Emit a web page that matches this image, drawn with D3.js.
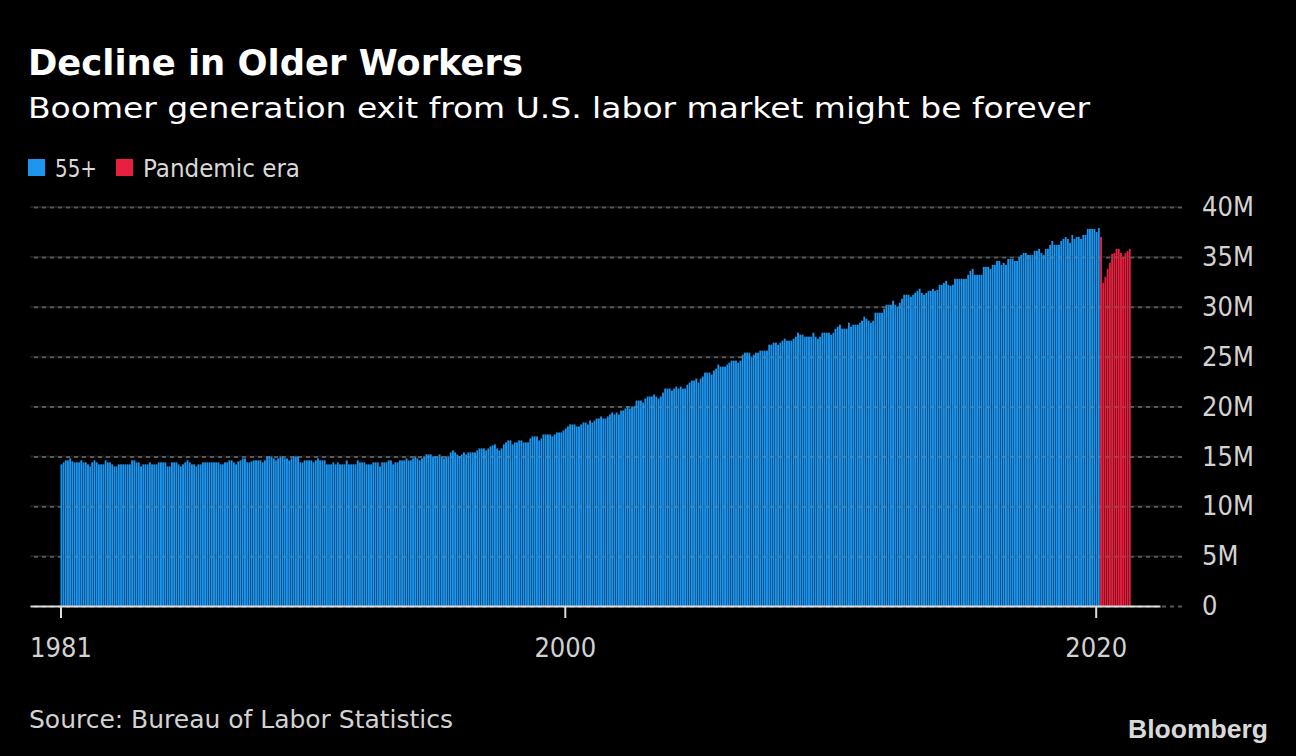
<!DOCTYPE html>
<html>
<head>
<meta charset="utf-8">
<script src="https://cdn.jsdelivr.net/npm/d3@7"></script>
<style>
  html, body { margin: 0; padding: 0; background: #000; }
  svg { display: block; }
  text { font-family: "DejaVu Sans", "Noto Sans", sans-serif; font-stretch: condensed; }
</style>
</head>
<body>
<svg id="chart" width="1296" height="756"></svg>
<script>
// ---- Data (millions employed, age 55+, monthly) ----
const firstMonth = "1981-01";
const olderWorkers = [
  14.2,14.4,14.6,14.6,14.8,14.5,14.4,14.4,14.4,14.6,14.4,14.4, // 1981
  14.2,14.0,14.4,14.6,14.4,14.2,14.2,14.2,14.6,14.4,14.4,14.2, // 1982
  14.0,14.0,14.2,14.2,14.2,14.2,14.2,14.2,14.6,14.6,14.4,14.4, // 1983
  14.0,14.2,14.2,14.2,14.4,14.2,14.2,14.2,14.4,14.4,14.4,14.4, // 1984
  14.0,14.0,14.4,14.4,14.4,14.2,14.0,14.2,14.4,14.6,14.4,14.2, // 1985
  14.2,14.0,14.2,14.2,14.4,14.4,14.4,14.4,14.4,14.4,14.4,14.4, // 1986
  14.2,14.2,14.4,14.4,14.6,14.6,14.4,14.2,14.5,14.6,14.8,14.8, // 1987
  14.4,14.4,14.5,14.6,14.6,14.6,14.6,14.4,14.6,15.0,15.0,15.0, // 1988
  14.8,14.6,14.8,15.0,15.0,14.8,14.8,14.6,14.8,15.0,15.0,15.0, // 1989
  14.4,14.4,14.6,14.6,14.6,14.6,14.4,14.6,14.8,14.6,14.6,14.6, // 1990
  14.2,14.2,14.2,14.4,14.2,14.4,14.2,14.2,14.2,14.6,14.2,14.2, // 1991
  14.2,14.2,14.6,14.4,14.4,14.4,14.2,14.2,14.2,14.4,14.4,14.4, // 1992
  14.0,14.4,14.4,14.4,14.6,14.6,14.2,14.4,14.4,14.6,14.6,14.6, // 1993
  14.8,14.6,14.6,14.8,15.0,14.8,14.6,14.8,15.0,15.2,15.2,15.2, // 1994
  15.0,15.0,15.0,15.2,15.0,14.8,15.0,15.0,15.4,15.6,15.4,15.2, // 1995
  15.0,15.2,15.4,15.2,15.4,15.4,15.4,15.4,15.6,15.8,15.8,15.8, // 1996
  15.6,15.8,16.0,16.1,16.2,15.8,15.6,15.8,16.2,16.4,16.6,16.6, // 1997
  16.2,16.4,16.4,16.6,16.6,16.4,16.4,16.4,16.8,17.0,17.0,17.0, // 1998
  16.6,16.8,17.2,17.2,17.2,17.2,17.0,17.2,17.4,17.4,17.4,17.6, // 1999
  17.8,18.0,18.2,18.2,18.2,18.0,18.0,18.2,18.4,18.4,18.2,18.6, // 2000
  18.4,18.6,18.8,18.8,19.0,18.8,18.8,19.0,19.2,19.4,19.2,19.4, // 2001
  19.2,19.6,19.6,19.8,20.0,19.8,20.0,20.0,20.6,20.6,20.6,20.4, // 2002
  20.8,21.0,21.0,21.0,21.2,21.0,20.8,21.0,21.4,21.8,21.8,21.8, // 2003
  21.6,21.8,22.0,21.8,22.0,21.8,21.8,22.2,22.4,22.6,22.6,22.8, // 2004
  22.4,22.8,23.0,23.4,23.4,23.4,23.2,23.6,23.8,24.2,24.0,24.0, // 2005
  24.0,24.2,24.4,24.6,24.6,24.6,24.4,24.6,25.2,25.4,25.4,25.4, // 2006
  25.0,25.2,25.4,25.4,25.6,25.6,25.6,25.6,26.2,26.2,26.4,26.4, // 2007
  26.2,26.4,26.6,26.8,26.6,26.6,26.6,26.8,27.0,27.4,27.2,27.2, // 2008
  27.0,27.0,27.0,27.0,27.4,27.0,26.8,27.0,27.4,27.4,27.4,27.4, // 2009
  27.2,27.4,27.8,28.0,28.2,27.8,27.8,27.8,28.4,28.0,28.2,28.2, // 2010
  28.2,28.4,28.6,29.0,28.8,28.6,28.4,28.6,29.4,29.4,29.4,29.4, // 2011
  29.8,30.2,30.2,30.2,30.6,30.2,30.0,30.4,30.8,31.2,31.2,31.2, // 2012
  31.0,31.2,31.4,31.6,31.8,31.4,31.2,31.4,31.6,31.6,31.8,31.6, // 2013
  31.7,32.2,32.2,32.4,32.6,32.2,32.1,32.2,32.8,32.8,32.8,32.8, // 2014
  32.8,32.8,33.2,33.6,33.8,33.2,33.2,33.2,33.2,34.0,34.0,34.0, // 2015
  33.8,34.2,34.2,34.6,34.6,34.2,34.4,34.2,34.8,34.8,34.8,34.6, // 2016
  34.6,35.0,35.2,35.4,35.4,35.2,35.2,35.2,35.6,35.6,35.8,35.4, // 2017
  35.2,35.8,35.8,36.2,36.6,36.2,36.2,36.2,36.6,36.8,37.0,36.8, // 2018
  36.4,37.2,36.8,37.0,37.0,36.8,37.2,37.2,37.8,37.8,37.8,37.8, // 2019
  37.5,37.9                                                     // 2020 Jan-Feb
];
const pandemicFirstMonth = "2020-03";
const pandemicEra = [37.0,32.4,33.0,33.8,34.4,35.3,35.4,35.8,35.8,35.4,35.0,35.4,35.6,35.8];

const seriesNames = ["55+", "Pandemic era"];
const seriesColors = ["#1c95ef", "#e8203f"];
const xTickYears = [1981, 2000, 2020];
const yTickValues = [0, 5, 10, 15, 20, 25, 30, 35, 40];

const titleText = "Decline in Older Workers";
const subtitleText = "Boomer generation exit from U.S. labor market might be forever";
const sourceText = "Source: Bureau of Labor Statistics";

// ---- Build rows ----
const parseMonth = d3.utcParse("%Y-%m");
const rows = [];
olderWorkers.forEach((v, i) => rows.push({date: d3.utcMonth.offset(parseMonth(firstMonth), i), value: v, s: 0}));
pandemicEra.forEach((v, i) => rows.push({date: d3.utcMonth.offset(parseMonth(pandemicFirstMonth), i), value: v, s: 1}));

const svg = d3.select("#chart");
svg.append("rect").attr("width", 1296).attr("height", 756).attr("fill", "#000");

// ---- Scales ----
const helper = d3.scaleUtc()
  .domain([new Date(Date.UTC(1981,0,1)), new Date(Date.UTC(2020,0,1))])
  .range([60.5, 1095.7]);
const x = d3.scaleUtc().domain([helper.invert(30), helper.invert(1160)]).range([30, 1160]);
const y = d3.scaleLinear().domain([0, 40]).range([606, 207]);

// ---- Grid (under bars) ----
const yAxis = d3.axisRight(y).tickValues(yTickValues).tickSize(-1152).tickPadding(20)
  .tickFormat(d => d === 0 ? "0" : d + "M");
const gridG = svg.append("g").attr("transform", "translate(1182,0)").call(yAxis);
gridG.select(".domain").remove();
gridG.selectAll(".tick line").attr("stroke", "#5a5a5a").attr("stroke-width", 2).attr("stroke-dasharray", "4,4");
gridG.selectAll(".tick text").attr("fill", "#d2d2d2").attr("font-size", 27)
  .style("font-family", '"DejaVu Sans", sans-serif').style("font-stretch", "condensed");

// ---- Bars ----
svg.append("g").selectAll("rect").data(rows).join("rect")
  .attr("x", d => x(d.date))
  .attr("width", d => x(d3.utcMonth.offset(d.date, 1)) - x(d.date) - 0.35)
  .attr("y", d => y(d.value))
  .attr("height", d => y(0) - y(d.value))
  .attr("fill", d => seriesColors[d.s]);

// ---- Grid overlay (faint on top of bars) ----
const overlay = svg.append("g");
overlay.selectAll("line").data(yTickValues.filter(v => v > 0)).join("line")
  .attr("x1", 30).attr("x2", 1182)
  .attr("y1", d => y(d)).attr("y2", d => y(d))
  .attr("stroke", "#5a5a5a").attr("stroke-opacity", 0.3).attr("stroke-width", 2).attr("stroke-dasharray", "4,4");

// ---- X axis ----
const xAxis = d3.axisBottom(x)
  .tickValues(xTickYears.map(yr => new Date(Date.UTC(yr, 0, 1))))
  .tickFormat(d3.utcFormat("%Y")).tickSize(12).tickSizeOuter(0).tickPadding(20);
const xG = svg.append("g").attr("transform", "translate(0,606)").call(xAxis);
xG.select(".domain").attr("stroke", "#dcdcdc").attr("stroke-width", 2);
xG.selectAll(".tick line").attr("stroke", "#dcdcdc").attr("stroke-width", 2);
xG.selectAll(".tick text").attr("fill", "#d2d2d2").attr("font-size", 27)
  .style("font-family", '"DejaVu Sans", sans-serif').style("font-stretch", "condensed");

// ---- Titles ----
svg.append("text").attr("x", 28).attr("y", 75).text(titleText)
  .attr("fill", "#fff").attr("font-size", 35).attr("font-weight", "bold")
  .attr("textLength", 495).attr("lengthAdjust", "spacingAndGlyphs");
svg.append("text").attr("x", 28).attr("y", 118).text(subtitleText)
  .attr("fill", "#fff").attr("font-size", 28)
  .attr("textLength", 1062).attr("lengthAdjust", "spacingAndGlyphs");

// ---- Legend ----
const legendX = [28, 116];
const legendTextX = [55, 143];
const legendTextW = [42, 157];
seriesNames.forEach((name, i) => {
  svg.append("rect").attr("x", legendX[i]).attr("y", 159).attr("width", 17).attr("height", 17).attr("fill", seriesColors[i]);
  svg.append("text").attr("x", legendTextX[i]).attr("y", 177).text(name)
    .attr("fill", "#d8d8d8").attr("font-size", 25)
    .attr("textLength", legendTextW[i]).attr("lengthAdjust", "spacingAndGlyphs");
});

// ---- Footer ----
svg.append("text").attr("x", 29).attr("y", 728).text(sourceText)
  .attr("fill", "#d2d2d2").attr("font-size", 25)
  .attr("textLength", 424).attr("lengthAdjust", "spacingAndGlyphs");
svg.append("text").attr("x", 1128).attr("y", 738).text("Bloomberg")
  .attr("fill", "#d9d9d9").attr("font-size", 26).attr("font-weight", "bold")
  .style("font-family", '"Liberation Sans", Arial, sans-serif').style("font-stretch", "normal")
  .attr("textLength", 140).attr("lengthAdjust", "spacingAndGlyphs");
</script>
</body>
</html>
